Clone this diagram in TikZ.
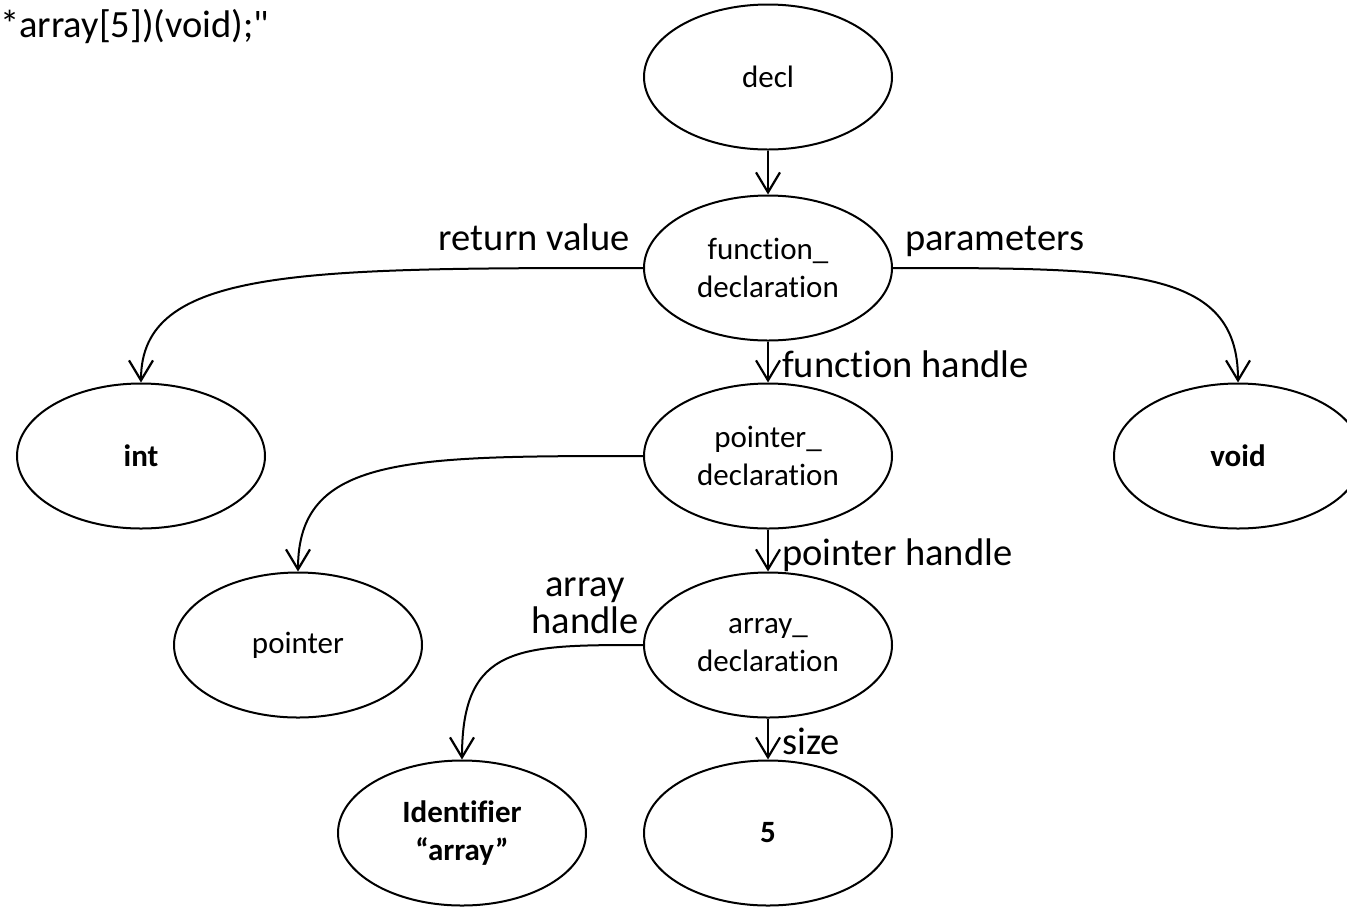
\documentclass[tikz,border=0pt]{standalone}
\usepackage{fontspec}
\setmainfont{Carlito}[Ligatures={TeX,NoCommon}]
\usetikzlibrary{shapes.geometric,arrows.meta}
\newcommand{\straightdq}{\XeTeXglyph\XeTeXcharglyph"22\relax}
\begin{document}
\begin{tikzpicture}[x=1pt,y=-1pt,
  nd/.style={ellipse,draw,line width=2pt,minimum width=248pt,minimum height=145pt,inner sep=0pt,align=center,font=\fontsize{31}{38}\selectfont},
  bnd/.style={nd,font=\fontsize{31}{38}\selectfont\bfseries},
  lbl/.style={font=\fontsize{38.5}{37}\selectfont,inner sep=0pt},
  arr/.style={line width=2pt,-{Straight Barb[length=20pt,width=24pt,line width=2.2pt]}}]
\useasboundingbox (0,0) rectangle (1347,906);
\clip (0,0) rectangle (1347,906);
\node[lbl,anchor=base west] (title) at (0,37) {*array[5])(void);\straightdq};
\node[nd] (decl) at (768,77) {decl};
\node[nd] (fdecl) at (768,268) {function\_\\declaration};
\node[bnd] (int) at (141,456) {int};
\node[nd] (pdecl) at (768,456) {pointer\_\\declaration};
\node[bnd] (void) at (1238,456) {void};
\node[nd] (ptr) at (298,645) {pointer};
\node[nd] (adecl) at (768,645) {array\_\\declaration};
\node[bnd] (ident) at (462,833) {Identifier\\“array”};
\node[bnd] (five) at (768,833) {5};
\draw[arr] (decl) -- (fdecl);
\draw[arr] (fdecl.west) .. controls (299,268) and (141,268) .. (int.north);
\draw[arr] (fdecl.east) .. controls (1130,268) and (1238,268) .. (void.north);
\draw[arr] (fdecl) -- (pdecl);
\draw[arr] (pdecl.west) .. controls (406,456) and (298,456) .. (ptr.north);
\draw[arr] (pdecl) -- (adecl);
\draw[arr] (adecl.west) .. controls (519,645) and (462,645) .. (ident.north);
\draw[arr] (adecl) -- (five);
\node[lbl,anchor=base east] (lret) at (630,250) {return value};
\node[lbl,anchor=base west] (lpar) at (905,250) {parameters};
\node[lbl,anchor=base west] (lfh) at (782,377) {function handle};
\node[lbl,anchor=base west] (lph) at (782,565) {pointer handle};
\node[lbl,anchor=base west] (lsize) at (782,754) {size};
\node[lbl,align=center,anchor=south] (lah) at (585,634) {array\\handle};
\end{tikzpicture}
\end{document}
